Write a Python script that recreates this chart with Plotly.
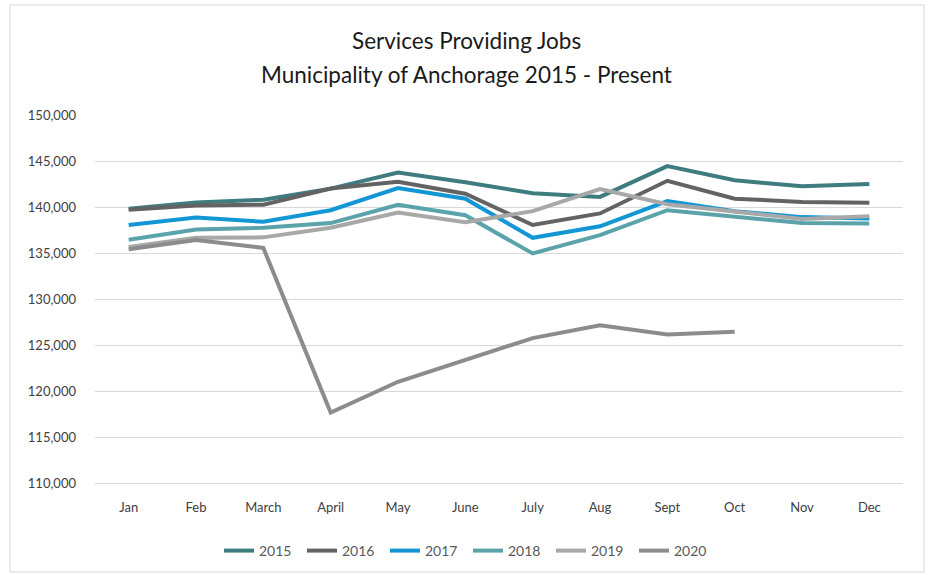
import plotly.graph_objects as go

months = ["Jan", "Feb", "March", "April", "May", "June", "July", "Aug", "Sept", "Oct", "Nov", "Dec"]

y2015 = [139800, 140500, 140800, 142000, 143750, 142700, 141500, 141100, 144450, 142900, 142250, 142500]
y2016 = [139700, 140150, 140250, 142000, 142750, 141450, 138050, 139300, 142850, 140900, 140550, 140450]
y2017 = [138050, 138850, 138400, 139650, 142050, 140900, 136650, 137900, 140650, 139550, 138900, 138750]
y2018 = [136450, 137550, 137750, 138250, 140250, 139100, 134950, 136950, 139650, 139000, 138250, 138200]
y2019 = [135650, 136650, 136700, 137750, 139400, 138350, 139550, 141950, 140300, 139450, 138700, 139000]
y2020 = [135400, 136400, 135550, 117650, 121000, 123350, 125750, 127150, 126150, 126450, None, None]

title_lines = ["Services Providing Jobs", "Municipality of Anchorage 2015 - Present"]

series = [
    ("2015", y2015, "#3E7C80"),
    ("2016", y2016, "#636363"),
    ("2017", y2017, "#1396D4"),
    ("2018", y2018, "#5AA3AB"),
    ("2019", y2019, "#A8A8A8"),
    ("2020", y2020, "#8C8C8C"),
]

FONT = "Lato"
L, R, T, B = 95, 26, 115, 92
PW, PH = 929 - L - R, 575 - T - B

fig = go.Figure()
for name, vals, color in series:
    fig.add_trace(go.Scatter(
        x=months, y=vals, name=name, mode="lines",
        line=dict(color=color, width=4, shape="linear"),
        connectgaps=False,
    ))

def py(pix):
    return (575 - B - pix) / PH

annotations = [
    dict(text=title_lines[0], xref="paper", yref="paper", x=(466 - L) / PW, y=py(40),
         xanchor="center", yanchor="middle", showarrow=False,
         font=dict(family=FONT, size=22.5, color="#1a1a1a")),
    dict(text=title_lines[1], xref="paper", yref="paper", x=(466 - L) / PW, y=py(75),
         xanchor="center", yanchor="middle", showarrow=False,
         font=dict(family=FONT, size=22.5, color="#1a1a1a")),
]

fig.update_layout(
    width=929, height=575,
    paper_bgcolor="white", plot_bgcolor="white",
    margin=dict(l=L, r=R, t=T, b=B, autoexpand=False),
    font=dict(family=FONT, size=13, color="#595959"),
    showlegend=True,
    legend=dict(
        orientation="h", x=(468 - L) / PW, xanchor="center", y=py(535), yanchor="top",
        font=dict(family=FONT, size=14, color="#595959"),
        itemwidth=30, tracegroupgap=0, entrywidth=38, entrywidthmode="pixels",
    ),
    annotations=annotations,
    shapes=[dict(
        type="rect", xref="paper", yref="paper",
        x0=(10 - L) / PW, x1=(924 - L) / PW,
        y0=py(572), y1=py(5),
        line=dict(color="#D9D9D9", width=1), fillcolor="rgba(0,0,0,0)", layer="below",
    )],
)

fig.update_xaxes(
    type="category", range=[-0.5, 11.5],
    showgrid=False, showline=True, linecolor="#D9D9D9", linewidth=1,
    ticks="", ticklabelstandoff=12,
    tickfont=dict(family=FONT, size=13, color="#404040"),
)
fig.update_yaxes(
    range=[110000, 150000], dtick=5000, tickformat=",",
    showgrid=True, gridcolor="#D9D9D9", gridwidth=1,
    zeroline=False, showline=False, ticks="", ticklabelstandoff=18,
    tickfont=dict(family=FONT, size=13, color="#404040"),
)

fig.write_html("out.html", config={"displayModeBar": False},
               post_script="document.body.style.margin='0';")
